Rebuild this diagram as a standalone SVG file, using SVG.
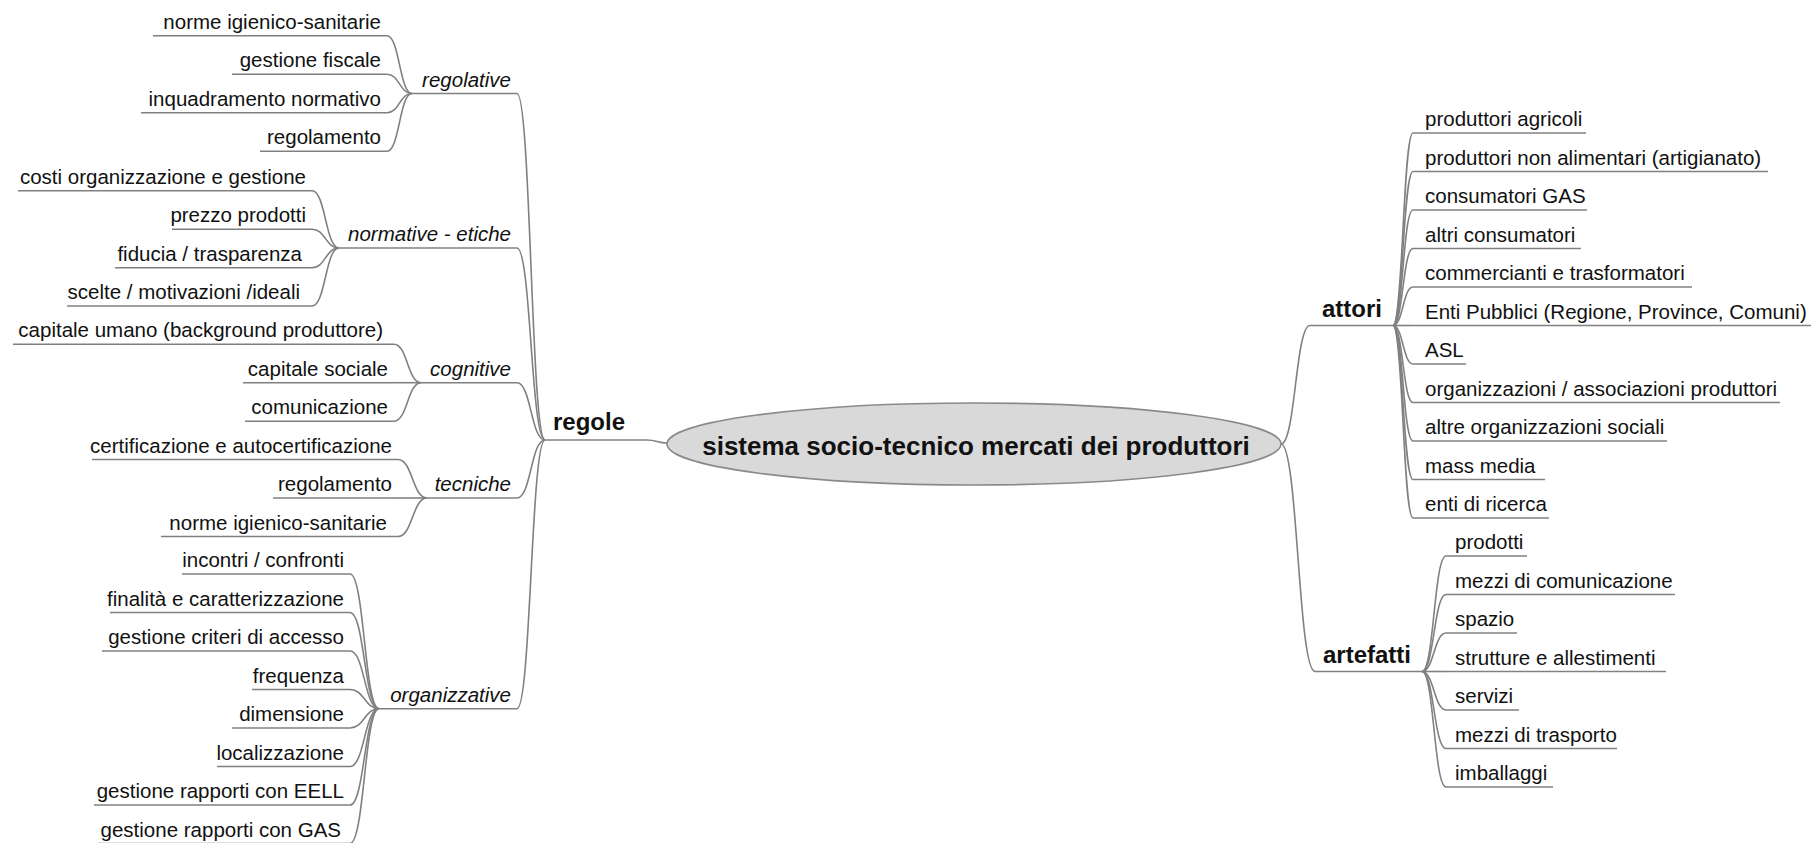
<svg xmlns="http://www.w3.org/2000/svg" width="1812" height="843" viewBox="0 0 1812 843">
  <style>
    text { font-family: "Liberation Sans", Arial, sans-serif; fill: #111; }
    .leaf { font-size: 20.5px; }
    .grp { font-size: 20.5px; font-style: italic; }
    .main { font-size: 24px; font-weight: bold; }
    .root { font-size: 26px; font-weight: bold; }
    .ln { fill: none; stroke: #808080; stroke-width: 1.6; }
    .end { text-anchor: end; }
  </style>
  <rect width="1812" height="843" fill="#ffffff"/>

  <!-- curved links between nodes -->
  <g id="connectors" class="ln">
    <!-- regolative -->
    <path d="M387,35.7 C399.5,35.7 399.5,93.5 412,93.5"/>
    <path d="M387,74.2 C399.5,74.2 399.5,93.5 412,93.5"/>
    <path d="M387,112.7 C399.5,112.7 399.5,93.5 412,93.5"/>
    <path d="M387,151.2 C399.5,151.2 399.5,93.5 412,93.5"/>
    <!-- normative - etiche -->
    <path d="M312,190.7 C325.5,190.7 325.5,248 339,248"/>
    <path d="M312,229.2 C325.5,229.2 325.5,248 339,248"/>
    <path d="M312,267.7 C325.5,267.7 325.5,248 339,248"/>
    <path d="M312,306 C325.5,306 325.5,248 339,248"/>
    <!-- cognitive -->
    <path d="M394,344.2 C407.5,344.2 407.5,382.7 421,382.7"/>
    <path d="M394,382.7 L421,382.7"/>
    <path d="M394,421.2 C407.5,421.2 407.5,382.7 421,382.7"/>
    <!-- tecniche -->
    <path d="M398,459.5 C412.5,459.5 412.5,498 427,498"/>
    <path d="M398,498 L427,498"/>
    <path d="M398,536.5 C412.5,536.5 412.5,498 427,498"/>
    <!-- organizzative -->
    <path d="M350,574 C364.5,574 364.5,708.7 379,708.7"/>
    <path d="M350,612.5 C364.5,612.5 364.5,708.7 379,708.7"/>
    <path d="M350,651 C364.5,651 364.5,708.7 379,708.7"/>
    <path d="M350,689.5 C364.5,689.5 364.5,708.7 379,708.7"/>
    <path d="M350,728 C364.5,728 364.5,708.7 379,708.7"/>
    <path d="M350,766.5 C364.5,766.5 364.5,708.7 379,708.7"/>
    <path d="M350,805 C364.5,805 364.5,708.7 379,708.7"/>
    <path d="M350,843.5 C364.5,843.5 364.5,708.7 379,708.7"/>
    <!-- regole to its groups -->
    <path d="M517,93.5 C531,93.5 531,440 545,440"/>
    <path d="M517,248 C531,248 531,440 545,440"/>
    <path d="M517,382.7 C531,382.7 531,440 545,440"/>
    <path d="M517,498 C531,498 531,440 545,440"/>
    <path d="M517,708.7 C531,708.7 531,440 545,440"/>
    <!-- root to main branches -->
    <path d="M647,440 C657,440 657,443 667,443"/>
    <path d="M1281,444 C1295.5,444 1295.5,325.5 1310,325.5"/>
    <path d="M1281,444 C1298,444 1298,671.5 1315,671.5"/>
    <!-- attori -->
    <path d="M1393,325.5 C1403,325.5 1403,133 1413,133"/>
    <path d="M1393,325.5 C1403,325.5 1403,171.5 1413,171.5"/>
    <path d="M1393,325.5 C1403,325.5 1403,210 1413,210"/>
    <path d="M1393,325.5 C1403,325.5 1403,248.5 1413,248.5"/>
    <path d="M1393,325.5 C1403,325.5 1403,287 1413,287"/>
    <path d="M1393,325.5 L1413,325.5"/>
    <path d="M1393,325.5 C1403,325.5 1403,364 1413,364"/>
    <path d="M1393,325.5 C1403,325.5 1403,402.5 1413,402.5"/>
    <path d="M1393,325.5 C1403,325.5 1403,441 1413,441"/>
    <path d="M1393,325.5 C1403,325.5 1403,479.5 1413,479.5"/>
    <path d="M1393,325.5 C1403,325.5 1403,518 1413,518"/>
    <!-- artefatti -->
    <path d="M1422,671.5 C1434,671.5 1434,556 1446,556"/>
    <path d="M1422,671.5 C1434,671.5 1434,594.5 1446,594.5"/>
    <path d="M1422,671.5 C1434,671.5 1434,633 1446,633"/>
    <path d="M1422,671.5 L1446,671.5"/>
    <path d="M1422,671.5 C1434,671.5 1434,710 1446,710"/>
    <path d="M1422,671.5 C1434,671.5 1434,748.5 1446,748.5"/>
    <path d="M1422,671.5 C1434,671.5 1434,787 1446,787"/>
  </g>

  <!-- central topic -->
  <g id="root">
    <ellipse cx="974" cy="444" rx="307" ry="41" fill="#d9d9d9" stroke="#8a8a8a" stroke-width="1.6"/>
    <text class="root" x="976" y="455" text-anchor="middle">sistema socio-tecnico mercati dei produttori</text>
  </g>

  <!-- main branch: regole -->
  <g id="regole">
    <line class="ln" x1="545" y1="440" x2="647" y2="440"/>
    <text class="main" x="553" y="430">regole</text>
  </g>

  <!-- regole / regolative -->
  <g id="regolative">
    <line class="ln" x1="412" y1="93.5" x2="517" y2="93.5"/>
    <text class="grp end" x="511" y="86.5">regolative</text>
  </g>
  <g id="reg-norme">
    <line class="ln" x1="153" y1="35.7" x2="387" y2="35.7"/>
    <text class="leaf end" x="381" y="28.7">norme igienico-sanitarie</text>
  </g>
  <g id="reg-fiscale">
    <line class="ln" x1="232" y1="74.2" x2="387" y2="74.2"/>
    <text class="leaf end" x="381" y="67.2">gestione fiscale</text>
  </g>
  <g id="reg-inquadramento">
    <line class="ln" x1="141" y1="112.7" x2="387" y2="112.7"/>
    <text class="leaf end" x="381" y="105.7">inquadramento normativo</text>
  </g>
  <g id="reg-regolamento">
    <line class="ln" x1="260" y1="151.2" x2="387" y2="151.2"/>
    <text class="leaf end" x="381" y="144.2">regolamento</text>
  </g>

  <!-- regole / normative - etiche -->
  <g id="normative-etiche">
    <line class="ln" x1="339" y1="248" x2="517" y2="248"/>
    <text class="grp end" x="511" y="241">normative - etiche</text>
  </g>
  <g id="ne-costi">
    <line class="ln" x1="18" y1="190.7" x2="312" y2="190.7"/>
    <text class="leaf end" x="306" y="183.7">costi organizzazione e gestione</text>
  </g>
  <g id="ne-prezzo">
    <line class="ln" x1="172" y1="229.2" x2="312" y2="229.2"/>
    <text class="leaf end" x="306" y="222.2">prezzo prodotti</text>
  </g>
  <g id="ne-fiducia">
    <line class="ln" x1="115" y1="267.7" x2="312" y2="267.7"/>
    <text class="leaf end" x="302" y="260.7">fiducia / trasparenza</text>
  </g>
  <g id="ne-scelte">
    <line class="ln" x1="67" y1="306" x2="312" y2="306"/>
    <text class="leaf end" x="300" y="299">scelte / motivazioni /ideali</text>
  </g>

  <!-- regole / cognitive -->
  <g id="cognitive">
    <line class="ln" x1="421" y1="382.7" x2="517" y2="382.7"/>
    <text class="grp end" x="511" y="375.7">cognitive</text>
  </g>
  <g id="cog-umano">
    <line class="ln" x1="13" y1="344.2" x2="394" y2="344.2"/>
    <text class="leaf end" x="383" y="337.2">capitale umano (background produttore)</text>
  </g>
  <g id="cog-sociale">
    <line class="ln" x1="243" y1="382.7" x2="394" y2="382.7"/>
    <text class="leaf end" x="388" y="375.7">capitale sociale</text>
  </g>
  <g id="cog-comunicazione">
    <line class="ln" x1="245" y1="421.2" x2="394" y2="421.2"/>
    <text class="leaf end" x="388" y="414.2">comunicazione</text>
  </g>

  <!-- regole / tecniche -->
  <g id="tecniche">
    <line class="ln" x1="427" y1="498" x2="517" y2="498"/>
    <text class="grp end" x="511" y="491">tecniche</text>
  </g>
  <g id="tec-certificazione">
    <line class="ln" x1="92" y1="459.5" x2="398" y2="459.5"/>
    <text class="leaf end" x="392" y="452.5">certificazione e autocertificazione</text>
  </g>
  <g id="tec-regolamento">
    <line class="ln" x1="273" y1="498" x2="398" y2="498"/>
    <text class="leaf end" x="392" y="491">regolamento</text>
  </g>
  <g id="tec-norme">
    <line class="ln" x1="161" y1="536.5" x2="398" y2="536.5"/>
    <text class="leaf end" x="387" y="529.5">norme igienico-sanitarie</text>
  </g>

  <!-- regole / organizzative -->
  <g id="organizzative">
    <line class="ln" x1="379" y1="708.7" x2="517" y2="708.7"/>
    <text class="grp end" x="511" y="701.7">organizzative</text>
  </g>
  <g id="org-incontri">
    <line class="ln" x1="182" y1="574" x2="350" y2="574"/>
    <text class="leaf end" x="344" y="567">incontri / confronti</text>
  </g>
  <g id="org-finalita">
    <line class="ln" x1="110" y1="612.5" x2="350" y2="612.5"/>
    <text class="leaf end" x="344" y="605.5">finalità e caratterizzazione</text>
  </g>
  <g id="org-criteri">
    <line class="ln" x1="102" y1="651" x2="350" y2="651"/>
    <text class="leaf end" x="344" y="644">gestione criteri di accesso</text>
  </g>
  <g id="org-frequenza">
    <line class="ln" x1="252" y1="689.5" x2="350" y2="689.5"/>
    <text class="leaf end" x="344" y="682.5">frequenza</text>
  </g>
  <g id="org-dimensione">
    <line class="ln" x1="232" y1="728" x2="350" y2="728"/>
    <text class="leaf end" x="344" y="721">dimensione</text>
  </g>
  <g id="org-localizzazione">
    <line class="ln" x1="217" y1="766.5" x2="350" y2="766.5"/>
    <text class="leaf end" x="344" y="759.5">localizzazione</text>
  </g>
  <g id="org-eell">
    <line class="ln" x1="94" y1="805" x2="350" y2="805"/>
    <text class="leaf end" x="344" y="798">gestione rapporti con EELL</text>
  </g>
  <g id="org-gas">
    <line class="ln" x1="98" y1="843.5" x2="350" y2="843.5"/>
    <text class="leaf end" x="341" y="836.5">gestione rapporti con GAS</text>
  </g>

  <!-- main branch: attori -->
  <g id="attori">
    <line class="ln" x1="1310" y1="325.5" x2="1393" y2="325.5"/>
    <text class="main" x="1322" y="317">attori</text>
  </g>
  <g id="att-agricoli">
    <line class="ln" x1="1413" y1="133" x2="1586" y2="133"/>
    <text class="leaf" x="1425" y="126">produttori agricoli</text>
  </g>
  <g id="att-artigianato">
    <line class="ln" x1="1413" y1="171.5" x2="1768" y2="171.5"/>
    <text class="leaf" x="1425" y="164.5">produttori non alimentari (artigianato)</text>
  </g>
  <g id="att-gas">
    <line class="ln" x1="1413" y1="210" x2="1587" y2="210"/>
    <text class="leaf" x="1425" y="203">consumatori GAS</text>
  </g>
  <g id="att-altri">
    <line class="ln" x1="1413" y1="248.5" x2="1581" y2="248.5"/>
    <text class="leaf" x="1425" y="241.5">altri consumatori</text>
  </g>
  <g id="att-commercianti">
    <line class="ln" x1="1413" y1="287" x2="1692" y2="287"/>
    <text class="leaf" x="1425" y="280">commercianti e trasformatori</text>
  </g>
  <g id="att-enti-pubblici">
    <line class="ln" x1="1413" y1="325.5" x2="1811" y2="325.5"/>
    <text class="leaf" x="1425" y="318.5">Enti Pubblici (Regione, Province, Comuni)</text>
  </g>
  <g id="att-asl">
    <line class="ln" x1="1413" y1="364" x2="1466" y2="364"/>
    <text class="leaf" x="1425" y="357">ASL</text>
  </g>
  <g id="att-organizzazioni">
    <line class="ln" x1="1413" y1="402.5" x2="1780" y2="402.5"/>
    <text class="leaf" x="1425" y="395.5">organizzazioni / associazioni produttori</text>
  </g>
  <g id="att-sociali">
    <line class="ln" x1="1413" y1="441" x2="1667" y2="441"/>
    <text class="leaf" x="1425" y="434">altre organizzazioni sociali</text>
  </g>
  <g id="att-media">
    <line class="ln" x1="1413" y1="479.5" x2="1545" y2="479.5"/>
    <text class="leaf" x="1425" y="472.5">mass media</text>
  </g>
  <g id="att-ricerca">
    <line class="ln" x1="1413" y1="518" x2="1549" y2="518"/>
    <text class="leaf" x="1425" y="511">enti di ricerca</text>
  </g>

  <!-- main branch: artefatti -->
  <g id="artefatti">
    <line class="ln" x1="1315" y1="671.5" x2="1422" y2="671.5"/>
    <text class="main" x="1323" y="663">artefatti</text>
  </g>
  <g id="art-prodotti">
    <line class="ln" x1="1446" y1="556" x2="1527" y2="556"/>
    <text class="leaf" x="1455" y="549">prodotti</text>
  </g>
  <g id="art-comunicazione">
    <line class="ln" x1="1446" y1="594.5" x2="1675" y2="594.5"/>
    <text class="leaf" x="1455" y="587.5">mezzi di comunicazione</text>
  </g>
  <g id="art-spazio">
    <line class="ln" x1="1446" y1="633" x2="1517" y2="633"/>
    <text class="leaf" x="1455" y="626">spazio</text>
  </g>
  <g id="art-strutture">
    <line class="ln" x1="1446" y1="671.5" x2="1666" y2="671.5"/>
    <text class="leaf" x="1455" y="664.5">strutture e allestimenti</text>
  </g>
  <g id="art-servizi">
    <line class="ln" x1="1446" y1="710" x2="1519" y2="710"/>
    <text class="leaf" x="1455" y="703">servizi</text>
  </g>
  <g id="art-trasporto">
    <line class="ln" x1="1446" y1="748.5" x2="1617" y2="748.5"/>
    <text class="leaf" x="1455" y="741.5">mezzi di trasporto</text>
  </g>
  <g id="art-imballaggi">
    <line class="ln" x1="1446" y1="787" x2="1553" y2="787"/>
    <text class="leaf" x="1455" y="780">imballaggi</text>
  </g>
</svg>
